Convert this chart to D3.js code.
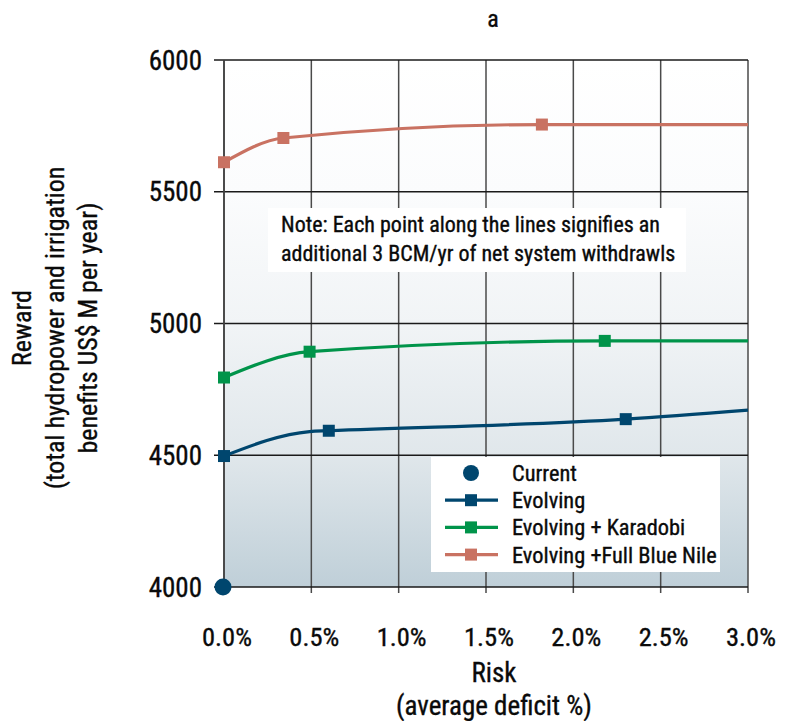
<!DOCTYPE html>
<html>
<head>
<meta charset="utf-8">
<script src="https://cdn.jsdelivr.net/npm/d3@7/dist/d3.min.js"></script>
<style>
  html, body { margin: 0; padding: 0; background: #fff; }
  svg text { font-family: "Liberation Sans Narrow", "Arial Narrow", "Roboto Condensed", "Liberation Sans", sans-serif; fill: #0a0a0a; stroke: #0a0a0a; stroke-width: 0.35px; }
</style>
</head>
<body>
<svg id="chart" width="788" height="721"></svg>
<script>
// Risk (average deficit, fraction) vs. reward (US$ M per year)
const xTicks = [0, 0.005, 0.01, 0.015, 0.02, 0.025, 0.03];
const yTicks = [4000, 4500, 5000, 5500, 6000];

const currentRisk = [0];
const currentReward = [4000];

// path vertices of each scenario curve
const evolvingLineRisk = [0, 0.0049, 0.006, 0.023, 0.03];
const evolvingLineReward = [4497, 4590, 4593, 4637, 4671];
const evolvingMarkRisk = [0, 0.006, 0.023];
const evolvingMarkReward = [4497, 4593, 4637];

const karadobiLineRisk = [0, 0.0049, 0.0218, 0.03];
const karadobiLineReward = [4795, 4893, 4934, 4934];
const karadobiMarkRisk = [0, 0.0049, 0.0218];
const karadobiMarkReward = [4795, 4893, 4934];

const blueNileLineRisk = [0, 0.0034, 0.0182, 0.03];
const blueNileLineReward = [5612, 5704, 5755, 5755];
const blueNileMarkRisk = [0, 0.0034, 0.0182];
const blueNileMarkReward = [5612, 5704, 5755];

const seriesNames = ["Current", "Evolving", "Evolving + Karadobi", "Evolving +Full Blue Nile"];
const seriesColors = ["#00466e", "#00466e", "#00944a", "#c97262"];

const noteLines = ["Note: Each point along the lines signifies an",
                   "additional 3 BCM/yr of net system withdrawls"];

const svg = d3.select("#chart");
const x = d3.scaleLinear().domain([0, 0.03]).range([224, 748]);
const y = d3.scaleLinear().domain([4000, 6000]).range([587, 60]);

// background gradient of the plot area
const defs = svg.append("defs");
const grad = defs.append("linearGradient").attr("id", "bg").attr("x1", 0).attr("y1", 0).attr("x2", 0).attr("y2", 1);
[[0, "#ffffff"], [0.25, "#fbfcfd"], [0.5, "#f1f4f6"], [0.75, "#e0e7eb"], [1, "#bfcfd8"]]
  .forEach(([o, c]) => grad.append("stop").attr("offset", o).attr("stop-color", c));

svg.append("rect")
  .attr("x", x(0)).attr("y", y(6000))
  .attr("width", x(0.03) - x(0)).attr("height", y(4000) - y(6000))
  .attr("fill", "url(#bg)");

// vertical grid
svg.append("g").selectAll("line").data(xTicks).join("line")
  .attr("x1", d => x(d)).attr("x2", d => x(d))
  .attr("y1", y(6000)).attr("y2", y(4000) + 6)
  .attr("stroke", "#4a4a4a").attr("stroke-width", 1.5);

// horizontal grid
svg.append("g").selectAll("line").data(yTicks).join("line")
  .attr("x1", x(0) - 10).attr("x2", x(0.03))
  .attr("y1", d => y(d)).attr("y2", d => y(d))
  .attr("stroke", "#1a1a1a").attr("stroke-width", 1.5);

// left axis line
svg.append("line").attr("x1", x(0)).attr("x2", x(0))
  .attr("y1", y(6000)).attr("y2", y(4000))
  .attr("stroke", "#444").attr("stroke-width", 1.7);

// note box
const noteBox = svg.append("g");
noteBox.append("rect").attr("x", 268).attr("y", 208).attr("width", 418).attr("height", 64).attr("fill", "#fff");
noteBox.selectAll("text").data(noteLines).join("text")
  .attr("x", 281).attr("y", (d, i) => 232 + i * 28.5)
  .attr("font-size", 22).text(d => d);

// tick labels
svg.append("g").selectAll("text").data(yTicks).join("text")
  .attr("x", 202).attr("y", d => y(d)).attr("dy", "0.36em")
  .attr("text-anchor", "end").attr("font-size", 27)
  .text(d => d);

svg.append("g").selectAll("text").data(xTicks).join("text")
  .attr("x", d => x(d) + 3).attr("y", 646)
  .attr("text-anchor", "middle").attr("font-size", 26.5)
  .text(d => d3.format(".1%")(d));

// titles
svg.append("text").attr("x", 493).attr("y", 27).attr("text-anchor", "middle").attr("font-size", 24).text("a");
svg.append("text").attr("x", 494).attr("y", 682).attr("text-anchor", "middle").attr("font-size", 27).text("Risk");
svg.append("text").attr("x", 494).attr("y", 715).attr("text-anchor", "middle").attr("font-size", 27).text("(average deficit %)");

const yTitle = ["Reward", "(total hydropower and irrigation", "benefits US$ M per year)"];
svg.append("g").selectAll("text").data(yTitle).join("text")
  .attr("transform", (d, i) => `translate(${31 + i * 33},328) rotate(-90)`)
  .attr("text-anchor", "middle").attr("font-size", 26)
  .text(d => d);

// legend box
const lg = svg.append("g");
lg.append("rect").attr("x", 431).attr("y", 457).attr("width", 289).attr("height", 115).attr("fill", "#fff");

// scenario curves
const line = d3.line().x(d => x(d[0])).y(d => y(d[1])).curve(d3.curveMonotoneX);
const curves = [
  [evolvingLineRisk, evolvingLineReward, evolvingMarkRisk, evolvingMarkReward, 1],
  [karadobiLineRisk, karadobiLineReward, karadobiMarkRisk, karadobiMarkReward, 2],
  [blueNileLineRisk, blueNileLineReward, blueNileMarkRisk, blueNileMarkReward, 3]
];
curves.forEach(([lr, lw, mr, mw, k]) => {
  svg.append("path").datum(d3.zip(lr, lw)).attr("d", line)
    .attr("fill", "none").attr("stroke", seriesColors[k]).attr("stroke-width", 3.2);
  svg.append("g").selectAll("rect").data(d3.zip(mr, mw)).join("rect")
    .attr("x", d => x(d[0]) - 6).attr("y", d => y(d[1]) - 6)
    .attr("width", 12).attr("height", 12).attr("fill", seriesColors[k]);
});

svg.append("g").selectAll("circle").data(d3.zip(currentRisk, currentReward)).join("circle")
  .attr("cx", d => x(d[0]) - 1).attr("cy", d => y(d[1])).attr("r", 8.5)
  .attr("fill", seriesColors[0]);

// legend entries
seriesNames.forEach((name, i) => {
  const cy = 473 + i * 27.2;
  if (i === 0) {
    lg.append("circle").attr("cx", 471).attr("cy", cy).attr("r", 8).attr("fill", seriesColors[i]);
  } else {
    lg.append("line").attr("x1", 445).attr("x2", 498).attr("y1", cy).attr("y2", cy)
      .attr("stroke", seriesColors[i]).attr("stroke-width", 3.2);
    lg.append("rect").attr("x", 465).attr("y", cy - 6).attr("width", 12).attr("height", 12).attr("fill", seriesColors[i]);
  }
  lg.append("text").attr("x", 512).attr("y", cy).attr("dy", "0.36em").attr("font-size", 22.4).text(name);
});
</script>
</body>
</html>
